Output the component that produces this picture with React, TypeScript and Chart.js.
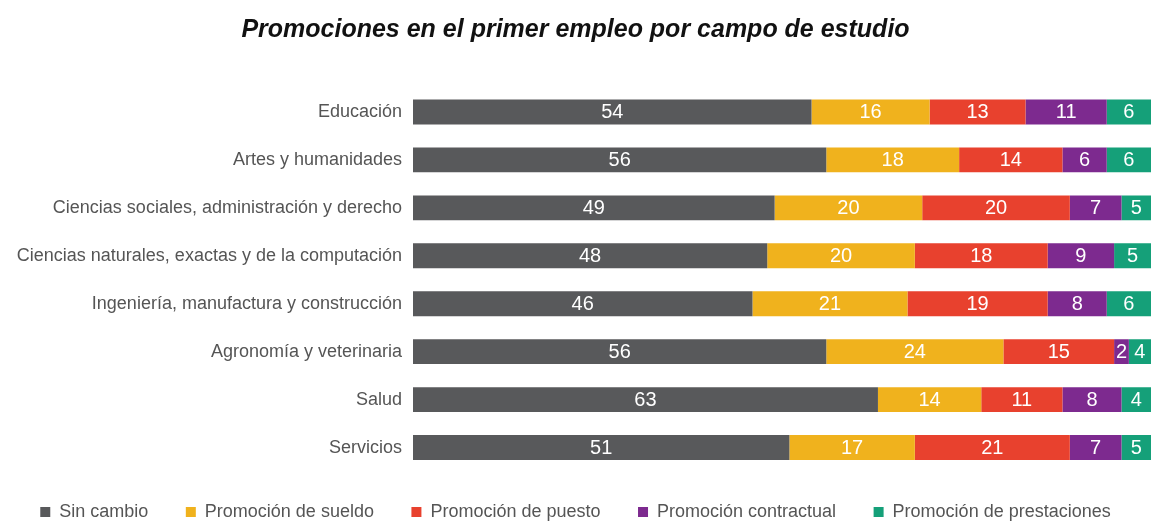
import React, { useEffect, useRef } from "react";
import { Chart, registerables } from "chart.js";

Chart.register(...registerables);

const categories = [
  "Educación",
  "Artes y humanidades",
  "Ciencias sociales, administración y derecho",
  "Ciencias naturales, exactas y de la computación",
  "Ingeniería, manufactura y construcción",
  "Agronomía y veterinaria",
  "Salud",
  "Servicios",
];

const sinCambio = [54, 56, 49, 48, 46, 56, 63, 51];
const promocionSueldo = [16, 18, 20, 20, 21, 24, 14, 17];
const promocionPuesto = [13, 14, 20, 18, 19, 15, 11, 21];
const promocionContractual = [11, 6, 7, 9, 8, 2, 8, 7];
const promocionPrestaciones = [6, 6, 5, 5, 6, 4, 4, 5];

const seriesNames = [
  "Sin cambio",
  "Promoción de sueldo",
  "Promoción de puesto",
  "Promoción contractual",
  "Promoción de prestaciones",
];
const seriesColors = ["#58595b", "#f0b21d", "#e8412e", "#7d2a8f", "#15a079"];
const seriesData = [sinCambio, promocionSueldo, promocionPuesto, promocionContractual, promocionPrestaciones];

const FONT = "'Liberation Sans', Arial, Helvetica, sans-serif";

const valueLabels = {
  id: "valueLabels",
  afterDatasetsDraw(chart: any) {
    const ctx = chart.ctx;
    const area = chart.chartArea;
    ctx.save();
    ctx.font = `20px ${FONT}`;
    ctx.fillStyle = "#ffffff";
    ctx.textAlign = "center";
    ctx.textBaseline = "middle";
    chart.data.datasets.forEach((ds: any, di: number) => {
      const meta = chart.getDatasetMeta(di);
      meta.data.forEach((el: any, i: number) => {
        const p = el.getProps(["x", "base", "y"], true);
        const a = Math.max(Math.min(p.x, p.base), area.left);
        const b = Math.min(Math.max(p.x, p.base), area.right);
        ctx.fillText(String(ds.data[i]), (a + b) / 2, p.y + 1);
      });
    });
    ctx.restore();
  },
};

const legendShift = {
  id: "legendShift",
  afterLayout(chart: any) {
    if (chart.legend) {
      chart.legend.top -= 6;
      chart.legend.bottom -= 6;
    }
  },
};

export default function App() {
  const ref = useRef<HTMLCanvasElement | null>(null);

  useEffect(() => {
    document.body.style.margin = "0";
    const chart = new Chart(ref.current as HTMLCanvasElement, {
      type: "bar",
      data: {
        labels: categories,
        datasets: seriesNames.map((name, i) => ({
          label: name,
          data: seriesData[i],
          backgroundColor: seriesColors[i],
          borderWidth: 0,
          barPercentage: 0.52,
          categoryPercentage: 1,
        })),
      },
      options: {
        indexAxis: "y",
        responsive: true,
        maintainAspectRatio: false,
        animation: false,
        layout: { padding: { left: 0, right: 0, top: 0, bottom: -12 } },
        scales: {
          x: {
            stacked: true,
            min: 0,
            max: 100,
            display: false,
            grid: { display: false },
          },
          y: {
            stacked: true,
            grid: { display: false },
            border: { display: false },
            ticks: {
              color: "#555555",
              font: { size: 18, family: FONT },
              padding: 3,
            },
            afterFit(scale: any) {
              scale.width = 413;
            },
          },
        },
        plugins: {
          title: {
            display: true,
            text: "Promociones en el primer empleo por campo de estudio",
            color: "#111111",
            font: { size: 25, weight: "bold", style: "italic", family: FONT },
            padding: { top: 15, bottom: 43 },
          },
          legend: {
            position: "bottom",
            labels: {
              color: "#555555",
              font: { size: 18, family: FONT },
              boxWidth: 10,
              boxHeight: 10,
              padding: 37.5,
            },
          },
          tooltip: { enabled: false },
        },
      },
      plugins: [valueLabels, legendShift],
    });
    return () => chart.destroy();
  }, []);

  return (
    <div style={{ position: "relative", width: "1151px", height: "525px" }}>
      <canvas ref={ref} />
    </div>
  );
}
